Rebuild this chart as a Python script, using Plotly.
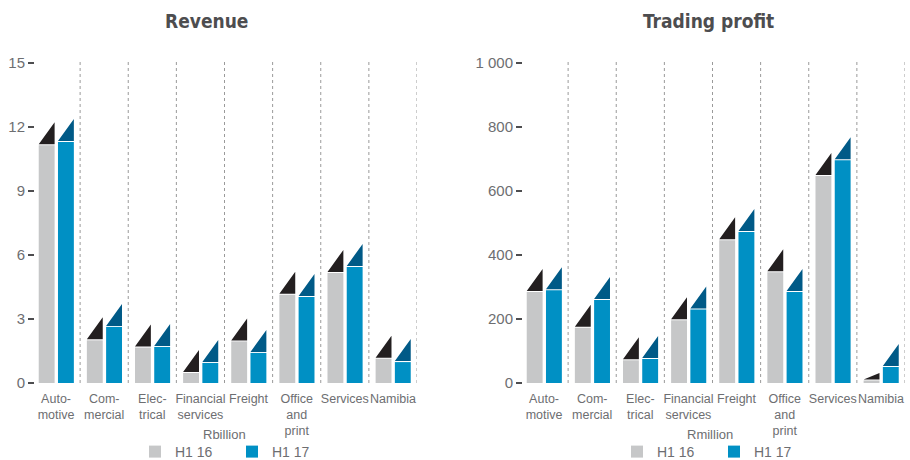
import plotly.graph_objects as go

# ---------------- data ----------------
categories = ["Auto-<br>motive", "Com-<br>mercial", "Elec-<br>trical", "Financial<br>services",
              "Freight", "Office<br>and<br>print", "Services", "Namibia"]
series_names = ["H1 16", "H1 17"]

revenue_h1_16 = [11.14, 2.00, 1.66, 0.47, 1.95, 4.14, 5.16, 1.14]
revenue_h1_17 = [11.30, 2.63, 1.69, 0.94, 1.41, 4.03, 5.44, 0.98]
profit_h1_16 = [284, 173, 71, 196, 446, 346, 647, 8]
profit_h1_17 = [290, 259, 75, 230, 472, 284, 696, 50]

revenue_tickvals = [0, 3, 6, 9, 12, 15]
revenue_ticktext = ["0", "3", "6", "9", "12", "15"]
profit_tickvals = [0, 200, 400, 600, 800, 1000]
profit_ticktext = ["0", "200", "400", "600", "800", "1 000"]

titles = ["Revenue", "Trading profit"]
units = ["Rbillion", "Rmillion"]

# ---------------- styling ----------------
W, H = 910, 460
TOP, BOTTOM = 63, 383           # plot area in pixels
PLOT_H = BOTTOM - TOP
BAR_COLORS = ["#c6c7c8", "#0090c4"]
CAP_COLORS = ["#231f20", "#005a87"]
OFFSETS = [-0.36, 0.04]
BAR_W = 0.33
CAP_PX = 22
GAP_PX = 1
TEXT = "#6d6e71"
FONT = "Liberation Sans, Arial, sans-serif"
TITLE_FONT = "DejaVu Sans Condensed, Liberation Sans Narrow, sans-serif"


def py(pixel_y):
    """pixel row -> paper fraction (margins are zero)"""
    return (H - pixel_y) / H


domains = [[35 / W, 417 / W], [523 / W, 905 / W]]
ydomain = [py(BOTTOM), py(TOP)]
xrange_ = [-0.4375, 7.5]
yranges = [[0, 15], [0, 1000]]

fig = go.Figure()

panels = [
    (revenue_h1_16, revenue_h1_17, revenue_tickvals, revenue_ticktext),
    (profit_h1_16, profit_h1_17, profit_tickvals, profit_ticktext),
]

for p, (s16, s17, tv, tt) in enumerate(panels):
    xa = "x" if p == 0 else "x2"
    ya = "y" if p == 0 else "y2"
    legend = "legend" if p == 0 else "legend2"
    unit_per_px = (yranges[p][1] - yranges[p][0]) / PLOT_H
    for k, vals in enumerate([s16, s17]):
        xs = list(range(len(vals)))
        fig.add_trace(go.Bar(
            x=xs, y=vals, name=series_names[k], xaxis=xa, yaxis=ya,
            offset=OFFSETS[k], width=BAR_W,
            marker=dict(color=BAR_COLORS[k], line=dict(width=0)),
            legend=legend, showlegend=True, hoverinfo="y",
        ))
        # triangular caps on top of each bar
        tx, ty = [], []
        for i, v in enumerate(vals):
            bar_px = v / unit_per_px
            cap = min(CAP_PX, 2.5 * bar_px) * unit_per_px
            base = v + GAP_PX * unit_per_px
            xl = i + OFFSETS[k]
            xr = xl + BAR_W
            tx += [xl, xr, xr, xl, None]
            ty += [base, base, base + cap, base, None]
        fig.add_trace(go.Scatter(
            x=tx, y=ty, xaxis=xa, yaxis=ya, mode="none", fill="toself",
            fillcolor=CAP_COLORS[k], showlegend=False, hoverinfo="skip",
        ))

    axis_common_x = dict(
        domain=domains[p], range=xrange_, tickmode="array",
        tickvals=list(range(len(categories))), ticktext=categories,
        showgrid=False, zeroline=False, showline=False, ticks="", tickangle=0,
        ticklabelstandoff=6,
        tickfont=dict(family=FONT, size=12.5, color=TEXT),
        fixedrange=True, automargin=False,
    )
    axis_common_y = dict(
        domain=ydomain, range=yranges[p], tickmode="array", tickvals=tv, ticktext=tt,
        showgrid=False, zeroline=False, showline=False,
        ticks="outside", ticklen=6, tickwidth=1.5, tickcolor="#4d4d4f",
        tickfont=dict(family=FONT, size=15, color=TEXT),
        fixedrange=True, automargin=False,
    )
    if p == 0:
        fig.update_layout(xaxis=dict(anchor="y", **axis_common_x),
                          yaxis=dict(anchor="x", **axis_common_y))
    else:
        fig.update_layout(xaxis2=dict(anchor="y2", **axis_common_x),
                          yaxis2=dict(anchor="x2", **axis_common_y))

    # dotted separators
    for i in range(len(categories)):
        fig.add_shape(type="line", xref=xa, yref=f"{ya} domain",
                      x0=i + 0.5, x1=i + 0.5, y0=0, y1=1.005,
                      line=dict(color="#9a9a9a", width=1, dash="dot"), layer="below")

# titles and unit labels
title_x = [206, 708]
unit_x = [224, 710]
for p in range(2):
    fig.add_annotation(text=f"<b>{titles[p]}</b>", x=title_x[p] / W, y=py(21),
                       xref="paper", yref="paper", showarrow=False,
                       xanchor="center", yanchor="middle",
                       font=dict(family=TITLE_FONT, size=19, color="#4d4d4f"))
    fig.add_annotation(text=units[p], x=unit_x[p] / W, y=py(434),
                       xref="paper", yref="paper", showarrow=False,
                       xanchor="center", yanchor="middle",
                       font=dict(family=FONT, size=13, color=TEXT))

legend_common = dict(
    orientation="h", yanchor="middle", y=py(452),
    xanchor="left", font=dict(family=FONT, size=14, color=TEXT),
    bgcolor="rgba(0,0,0,0)", entrywidth=52, entrywidthmode="pixels",
    itemclick=False, itemdoubleclick=False,
)
fig.update_layout(
    width=W, height=H,
    margin=dict(l=0, r=0, t=0, b=0, autoexpand=False),
    paper_bgcolor="white", plot_bgcolor="white",
    barmode="overlay",
    legend=dict(x=135 / W, **legend_common),
    legend2=dict(x=617 / W, **legend_common),
)

fig.write_html("out.html")
